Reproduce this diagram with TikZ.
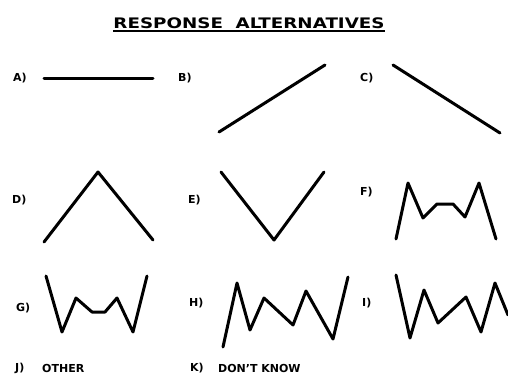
\documentclass[tikz,border=0pt]{standalone}
\usepackage{fontspec}
\setmainfont{DejaVu Sans}
\begin{document}
\begin{tikzpicture}[x=1pt,y=-1pt,
  lbl/.style={font=\bfseries\fontsize{11}{12}\selectfont, inner sep=0pt, anchor=west},
  curve/.style={line width=3pt, line join=round, line cap=round}]
\useasboundingbox (0,0) rectangle (508,383);
% title
\node[font=\bfseries\fontsize{14.5}{16}\selectfont, inner sep=0pt] (title) at (249,23) {\scalebox{1.26}[1]{RESPONSE\ \ ALTERNATIVES}};
\draw[line width=1.5pt] (113,31) -- (385,31);
% labels
\node[lbl] (la) at (13,78) {A)};
\node[lbl] (lb) at (178,78) {B)};
\node[lbl] (lc) at (360,78) {C)};
\node[lbl] (ld) at (12,200) {D)};
\node[lbl] (le) at (188,200) {E)};
\node[lbl] (lf) at (360,192) {F)};
\node[lbl] (lg) at (16,308) {G)};
\node[lbl] (lh) at (189,303) {H)};
\node[lbl] (li) at (362,303) {I)};
\node[lbl] (lj) at (15,368) {J)};
\node[lbl] (oth) at (42,368) {OTHER};
\node[lbl] (lk) at (190,368) {K)};
\node[lbl] (dk) at (218,368) {DON'T KNOW};
% curves
\draw[curve] (44,78) -- (153,78);
\draw[curve] (219,132) -- (325,65);
\draw[curve] (393,65) -- (500,133);
\draw[curve] (44,242) -- (98,172) -- (153,240);
\draw[curve] (221,172) -- (274,240) -- (324,172);
\draw[curve] (396,239) -- (408,183) -- (423,218) -- (437,204) -- (453,204) -- (465,217) -- (479,183) -- (496,239);
\draw[curve] (46,276) -- (62,332) -- (76,298) -- (92,312) -- (105,312) -- (117,298) -- (133,332) -- (147,276);
\draw[curve] (223,347) -- (237,283) -- (250,330) -- (264,298) -- (293,325) -- (306,291) -- (333,339) -- (348,277);
\draw[curve] (396,275) -- (410,338) -- (424,290) -- (438,323) -- (466,297) -- (481,332) -- (495,283) -- (508,315);
\end{tikzpicture}
\end{document}
